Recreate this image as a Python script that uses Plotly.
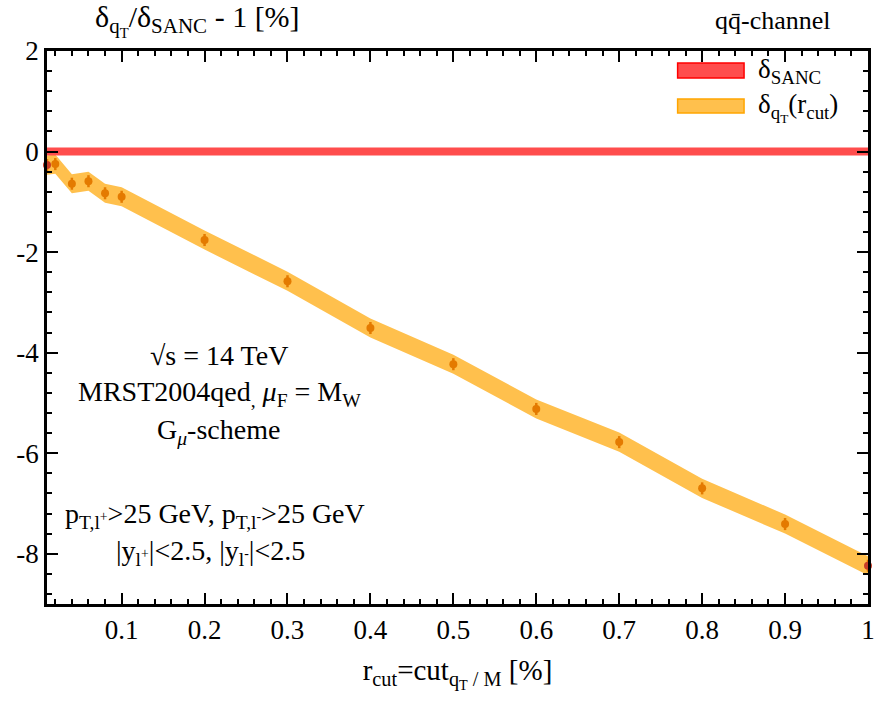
import plotly.graph_objects as go

# ---- data ----
r_cut = [0.01, 0.02, 0.04, 0.06, 0.08, 0.1, 0.2, 0.3, 0.4, 0.5, 0.6, 0.7, 0.8, 0.9, 1.0]
delta_qt = [-0.27, -0.25, -0.64, -0.59, -0.83, -0.90, -1.76, -2.58, -3.51, -4.23,
            -5.12, -5.78, -6.70, -7.41, -8.24]
point_err = [0.12, 0.12, 0.12, 0.12, 0.12, 0.12, 0.12, 0.12, 0.12, 0.12,
             0.12, 0.12, 0.12, 0.12, 0.12]
band_half = [0.19, 0.19, 0.19, 0.19, 0.19, 0.19, 0.19, 0.19, 0.19, 0.19,
             0.19, 0.19, 0.19, 0.19, 0.19]
sanc_x = [0.01, 1.0]
sanc_val = [0.0, 0.0]
sanc_half = [0.08, 0.08]

x_ticks = [0.1, 0.2, 0.3, 0.4, 0.5, 0.6, 0.7, 0.8, 0.9, 1.0]
x_ticktext = ["0.1", "0.2", "0.3", "0.4", "0.5", "0.6", "0.7", "0.8", "0.9", "1"]
y_ticks = [2, 0, -2, -4, -6, -8]
y_ticktext = ["2", "0", "-2", "-4", "-6", "-8"]

FONT = "Liberation Serif"
ORANGE_FILL = "rgb(255,192,77)"
RED_FILL = "rgb(255,77,77)"

fig = go.Figure()

# orange band (delta_qT)
up = [v + h for v, h in zip(delta_qt, band_half)]
lo = [v - h for v, h in zip(delta_qt, band_half)]
fig.add_trace(go.Scatter(
    x=r_cut + r_cut[::-1], y=up + lo[::-1], fill="toself",
    fillcolor=ORANGE_FILL, line=dict(width=0, color=ORANGE_FILL),
    mode="lines", hoverinfo="skip", showlegend=False))

# points with error bars
mcol = ["rgb(200,60,40)"] + ["rgb(228,122,0)"] * (len(r_cut) - 2) + ["rgb(200,60,40)"]
fig.add_trace(go.Scatter(
    x=r_cut, y=delta_qt, mode="markers",
    marker=dict(size=8, color=mcol),
    error_y=dict(type="data", array=point_err, color="rgb(228,122,0)",
                 thickness=2.5, width=0),
    cliponaxis=False, showlegend=False))

# red band (delta_SANC)
sup = [v + h for v, h in zip(sanc_val, sanc_half)]
slo = [v - h for v, h in zip(sanc_val, sanc_half)]
fig.add_trace(go.Scatter(
    x=sanc_x + sanc_x[::-1], y=sup + slo[::-1], fill="toself",
    fillcolor=RED_FILL, line=dict(width=0, color=RED_FILL),
    mode="lines", hoverinfo="skip", showlegend=False))

axis_common = dict(
    showline=True, linewidth=2.5, linecolor="black", mirror="ticks",
    ticks="inside", ticklen=11, tickwidth=2, tickcolor="black",
    showgrid=False, zeroline=False,
    tickfont=dict(family=FONT, size=27, color="black"),
)

fig.update_xaxes(
    range=[0.01, 1.0], tickmode="array", tickvals=x_ticks, ticktext=x_ticktext,
    minor=dict(tickmode="linear", tick0=0, dtick=0.02, ticklen=5, tickwidth=2,
               ticks="inside", tickcolor="black", showgrid=False),
    title=dict(text="r<sub>cut</sub>=cut<sub>q<sub>T</sub> / M</sub> [%]",
               font=dict(family=FONT, size=29, color="black"), standoff=16),
    **axis_common)
fig.update_yaxes(
    range=[-9, 2], tickmode="array", tickvals=y_ticks, ticktext=y_ticktext,
    minor=dict(tickmode="linear", tick0=0, dtick=0.4, ticklen=5, tickwidth=2,
               ticks="inside", tickcolor="black", showgrid=False),
    **axis_common)

ann = []
def A(text, x, y, size=27, xanchor="center", yanchor="middle"):
    ann.append(dict(text=text, x=x, y=y, xref="paper", yref="paper", showarrow=False,
                    xanchor=xanchor, yanchor=yanchor,
                    font=dict(family=FONT, size=size, color="black")))

W, H = 883, 703
L, R, T, B = 47, 8, 51, 99
pw, ph = W - L - R, H - T - B
def px(xp):
    return (xp - L) / pw
def py(yp):
    return 1 - (yp - T) / ph

A("δ<sub>q<sub>T</sub></sub>/δ<sub>SANC</sub> - 1 [%]", px(93), py(20), size=30, xanchor="left")
A("qq\u0304-channel", px(840), py(20), size=26, xanchor="right")

A("√s = 14 TeV", px(220), py(355), size=28)
A("MRST2004qed<sub>,</sub> <i>μ</i><sub>F</sub> = M<sub>W</sub>", px(221), py(393), size=28)
A("G<sub><i>μ</i></sub>-scheme", px(220), py(431), size=28)
A("p<sub>T,l<sup>+</sup></sub>>25 GeV, p<sub>T,l<sup>-</sup></sub>>25 GeV", px(216), py(515), size=28)
A("|y<sub>l<sup>+</sup></sub>|<2.5, |y<sub>l<sup>-</sup></sub>|<2.5", px(212), py(552), size=28)

# legend (manual)
shapes = [
    dict(type="rect", xref="paper", yref="paper", x0=px(683), x1=px(750),
         y0=py(78), y1=py(63), fillcolor=RED_FILL, line=dict(color="rgb(255,0,0)", width=1.5)),
    dict(type="rect", xref="paper", yref="paper", x0=px(683), x1=px(750),
         y0=py(113), y1=py(99), fillcolor=ORANGE_FILL, line=dict(color="rgb(255,165,0)", width=1.5)),
]
A("δ<sub>SANC</sub>", px(762), py(71), size=27, xanchor="left")
A("δ<sub>q<sub>T</sub></sub>(r<sub>cut</sub>)", px(762), py(107), size=27, xanchor="left")

fig.update_layout(
    width=W, height=H, margin=dict(l=L, r=R, t=T, b=B),
    paper_bgcolor="white", plot_bgcolor="white",
    showlegend=False, annotations=ann, shapes=shapes,
    font=dict(family=FONT, color="black"),
)

fig.write_html("out.html")
